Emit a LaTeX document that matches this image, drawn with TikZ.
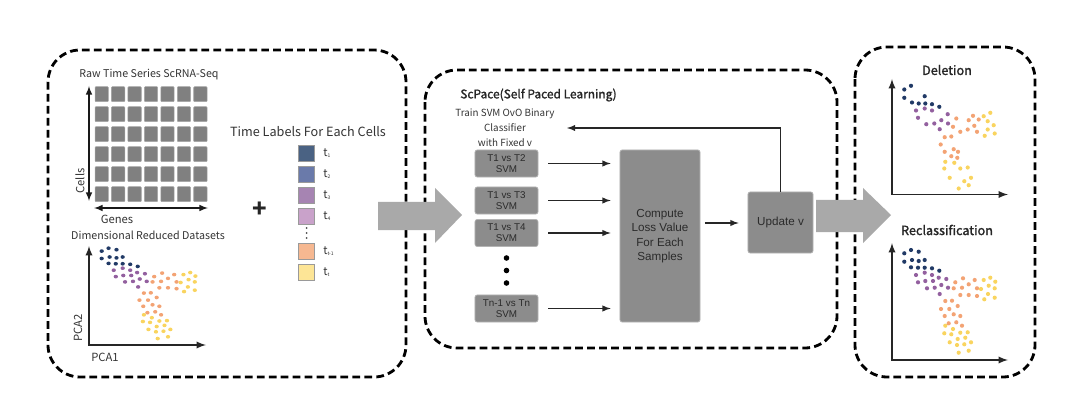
\documentclass[tikz,border=0pt]{standalone}
\usepackage{fontspec}
\setmainfont{Noto Sans CJK SC}
\newfontfamily\boxfont{Liberation Sans}
\newfontfamily\medfont{Noto Sans CJK SC}[FakeBold=1.6]
\usetikzlibrary{arrows}
\definecolor{cellgray}{HTML}{808080}
\definecolor{cellline}{HTML}{A6A6A6}
\definecolor{boxgray}{HTML}{8C8C8C}
\definecolor{boxline}{HTML}{B4B4B4}
\definecolor{boxtext}{HTML}{2B2B2B}
\definecolor{bigarrow}{HTML}{A9A9A9}
\definecolor{labeltext}{HTML}{333333}
\definecolor{legline}{HTML}{9A9A9A}
\definecolor{tone}{HTML}{4A6283}
\definecolor{ttwo}{HTML}{6A7AAA}
\definecolor{tthree}{HTML}{A684B2}
\definecolor{tfour}{HTML}{C9A2CA}
\definecolor{tlast}{HTML}{F6B891}
\definecolor{tend}{HTML}{FDE596}
\definecolor{navydot}{HTML}{213A66}
\definecolor{purpledot}{HTML}{93609F}
\definecolor{orangedot}{HTML}{F3A374}
\definecolor{yellowdot}{HTML}{F9D45F}
\newcommand{\tsub}[1]{t\raisebox{-0.25ex}{\fontsize{3.5}{4}\selectfont #1}}
% scatter points (dx/dy from the origin, in px)
\newcommand{\delnavy}{12.3/105,19/108.7,12.3/96.7,20/92,26.7/91,32.7/98.3,33.3/91,40/90.3,47.3/87.7}
\newcommand{\delpurple}{24/84,32.7/86,40/84,26/76.7,34.3/70.3,42.3/71,49.3/74.3,47.7/65.3,55.7/80.3,56/71}
\newcommand{\delorange}{64.3/76,61/67.7,68.3/62.7,52.7/57.3,59.3/58,48.7/50,52.7/42.7,59.3/38.3,61.7/45.3,66/42.7,65.3/36.7,76.7/74.3,81/78.7,86.7/75,82.3/68.7,75.7/65,85/62.7}
\newcommand{\delyellow}{91.7/78.3,98.3/81.7,95.7/73.3,101.7/69.3,95.7/65,102.7/61,92.7/58.7,53.3/32.7,62.3/31.7,52.3/26,68.3/26,75.7/27,57.7/16.7,79/16.7,72.3/13.3,66.7/6,76.7/9.3}
\newcommand{\recnavy}{12.3/106.7,19/110,26.7/108.3,12.3/98.3,20/100,26.7/99,32.7/100,19/92.7,26/92.3,32.7/92.3,40/91.7,47.3/89.3}
\newcommand{\recpurple}{24/85,32.7/87.3,40/85,26/77.7,33.3/79,41/79,46.7/82.3,54.3/81,35/71.7,42.7/72.3,49.3/75,56/72.3,47.7/66}
\newcommand{\recorange}{63.3/77.7,71/81.7,61.7/71.7,70/72.3,76.7/75.7,82.7/80,85/71.7,68.3/65,76.7/65,85/64,53.3/59,60/59.3,49/51,57.3/51,65.7/54,52.7/44,61.7/45.7,68.3/44,56.7/36.7,64.3/37.7,70/34.3}
\newcommand{\recyellow}{91.7/80,98.3/82.3,103.3/78.3,96.7/74.3,102.7/71.7,89/71,96/66,102.7/62.3,92.3/60.7,53.3/34.3,61/31,52.3/26.7,59.3/25.7,68.3/27.3,75.7/27.7,65.7/21,73.3/22.3,57.7/17.7,65/15,72.3/15.7,79/17.7,66.7/7.3,76.7/9.3}
\newcommand{\dotset}[4]{%
  \foreach \x/\y in #1 {\fill[navydot] (\x,-\y) circle[radius=2.1];}
  \foreach \x/\y in #2 {\fill[purpledot] (\x,-\y) circle[radius=2.1];}
  \foreach \x/\y in #3 {\fill[orangedot] (\x,-\y) circle[radius=2.1];}
  \foreach \x/\y in #4 {\fill[yellowdot] (\x,-\y) circle[radius=2.1];}}

\begin{document}
\begin{tikzpicture}[x=0.025cm,y=-0.025cm,
   panel/.style={draw=black,line width=2pt,dash pattern=on 5.5pt off 3pt,rounded corners=0.8cm},
   cell/.style={fill=cellgray,draw=cellline,line width=0.4pt,rounded corners=0.6pt,minimum width=0.333cm,minimum height=0.375cm,inner sep=0pt},
   legbox/.style={draw=legline,line width=0.5pt,minimum size=0.4cm,inner sep=0pt},
   svmbox/.style={fill=boxgray,draw=boxline,line width=0.5pt,rounded corners=1.5pt,inner sep=0pt,align=center,text=boxtext,font=\boxfont\fontsize{7}{7.6}\selectfont},
   txt/.style={text=labeltext,inner sep=0pt,font=\fontsize{8}{9.6}\selectfont},
   head/.style={text=black!85,inner sep=0pt,font=\medfont\fontsize{8.5}{10}\selectfont},
   flow/.style={-latex,line width=1pt,black!85},
   axis/.style={latex-latex,line width=1.3pt,black!85},
   dblarrow/.style={latex-latex,line width=1.1pt,black!90}]
   \useasboundingbox (0,0) rectangle (1088,407);
   % panels
   \draw[panel] (48,50) rectangle (406,377);
   \draw[panel] (425,70) rectangle (837,348);
   \draw[panel] (855,47) rectangle (1035,377);

   % left panel: expression matrix
   \node (rawtitle) at (149,75) [txt,font=\fontsize{7.6}{9}\selectfont] {Raw Time Series ScRNA-Seq};
   \foreach \i in {0,...,6}
      \foreach \j in {0,...,5}
         \node (c\i\j) at (101.7+16.45*\i,94.2+20*\j) [cell] {};
   \coordinate (celltop) at (89,86);
   \coordinate (cellbot) at (89,201);
   \coordinate (geneleft) at (94,208);
   \coordinate (generight) at (208,208);
   \draw[dblarrow] (celltop) to (cellbot);
   \draw[dblarrow] (geneleft) to (generight);
   \node (cells) at (80,181) [txt,rotate=90] {Cells};
   \node (genes) at (117,219) [txt] {Genes};
   \node (dimtitle) at (148,235) [txt,font=\fontsize{7.6}{9}\selectfont] {Dimensional Reduced Datasets};

   % left panel: reduced data
   \coordinate (lo) at (89,345);
   \coordinate (ly) at (89,246);
   \coordinate (lx) at (206,345);
   \begin{scope}[shift={(89,345)},xscale=1.03,yscale=0.88]
      \dotset{\recnavy}{\recpurple}{\recorange}{\recyellow}
   \end{scope}
   \draw[axis] (ly) -- (lo) -- (lx);
   \node (pcatwo) at (78,328) [txt,rotate=90] {PCA2};
   \node (pcaone) at (105,357) [txt] {PCA1};

   % time labels
   \node (plus) at (260,210) [text=black!85,font=\bfseries\fontsize{17}{17}\selectfont] {+};
   \node (timetitle) at (308,132) [txt,font=\fontsize{9}{11}\selectfont] {Time Labels For Each Cells};
   \node (l1) at (306.5,153) [legbox,fill=tone] {};
   \node (l2) at (306.5,174) [legbox,fill=ttwo] {};
   \node (l3) at (306.5,195) [legbox,fill=tthree] {};
   \node (l4) at (306.5,216) [legbox,fill=tfour] {};
   \node (l5) at (306.5,251) [legbox,fill=tlast] {};
   \node (l6) at (306.5,272) [legbox,fill=tend] {};
   \foreach \y in {228,233,238}
      \fill[black!70] (306.5,\y) circle[radius=1];
   \node (t1) at (323,153) [txt,anchor=west] {\tsub{1}};
   \node (t2) at (323,174) [txt,anchor=west] {\tsub{2}};
   \node (t3) at (323,195) [txt,anchor=west] {\tsub{3}};
   \node (t4) at (323,216) [txt,anchor=west] {\tsub{4}};
   \node (t5) at (323,251) [txt,anchor=west] {\tsub{t-1}};
   \node (t6) at (323,272) [txt,anchor=west] {\tsub{t}};

   % middle panel
   \node (sptitle) at (460,95) [head,anchor=west] {ScPace(Self Paced Learning)};
   \node (train) at (505,128) [txt,align=center,font=\fontsize{7}{10.7}\selectfont] {Train SVM OvO Binary\\Classifier\\with Fixed v};
   \node (svm1) at (506.5,163.5) [svmbox,minimum width=1.575cm,minimum height=0.675cm] {T1 vs T2\\SVM};
   \node (svm2) at (506.5,200.5) [svmbox,minimum width=1.575cm,minimum height=0.675cm] {T1 vs T3\\SVM};
   \node (svm3) at (506.5,233) [svmbox,minimum width=1.575cm,minimum height=0.675cm] {T1 vs T4\\SVM};
   \node (svmn) at (506.5,308.5) [svmbox,minimum width=1.575cm,minimum height=0.675cm] {Tn-1 vs Tn\\SVM};
   \foreach \y in {258,270.5,283}
      \fill[black] (506.5,\y) circle[radius=2.8];
   \node (loss) at (660,236) [svmbox,minimum width=2cm,minimum height=4.3cm,font=\boxfont\fontsize{8.3}{10.3}\selectfont] {Compute\\Loss Value\\For Each\\Samples};
   \node (update) at (780.5,222.5) [svmbox,minimum width=1.625cm,minimum height=1.525cm,font=\boxfont\fontsize{8.3}{10}\selectfont] {Update v};
   \draw[flow,shorten <=7.1pt,shorten >=6.4pt] (svm1.east) to (svm1.east -| loss.west);
   \draw[flow,shorten <=7.1pt,shorten >=6.4pt] (svm2.east) to (svm2.east -| loss.west);
   \draw[flow,shorten <=7.1pt,shorten >=6.4pt] (svm3.east) to (svm3.east -| loss.west);
   \draw[flow,shorten <=7.1pt,shorten >=6.4pt] (svmn.east) to (svmn.east -| loss.west);
   \coordinate (lossout) at (700,223);
   \draw[flow,shorten <=3.5pt,shorten >=6.4pt] (lossout) to (lossout -| update.west);
   \coordinate (back) at (567,128);
   \draw[flow] (update.north) |- (back);

   % right panel
   \node (deltitle) at (947,70) [head,font=\medfont\fontsize{9}{10}\selectfont] {Deletion};
   \coordinate (do) at (892,194.5);
   \coordinate (dy) at (892,79);
   \coordinate (dx) at (1008,194.5);
   \begin{scope}[shift={(892,194.5)}]
      \dotset{\delnavy}{\delpurple}{\delorange}{\delyellow}
   \end{scope}
   \draw[axis] (dy) -- (do) -- (dx);
   \node (rectitle) at (947,230) [head,font=\medfont\fontsize{9}{10}\selectfont] {Reclassification};
   \coordinate (ro) at (892,360);
   \coordinate (ry) at (892,243);
   \coordinate (rx) at (1008,360);
   \begin{scope}[shift={(892,360)}]
      \dotset{\recnavy}{\recpurple}{\recorange}{\recyellow}
   \end{scope}
   \draw[axis] (ry) -- (ro) -- (rx);

   % big arrows between panels
   \fill[bigarrow] (378,202) -- (435,202) -- (435,188) -- (462,215) -- (435,243) -- (435,230) -- (378,230) -- cycle;
   \fill[bigarrow] (816,200) -- (863,200) -- (863,188) -- (891,215) -- (863,243) -- (863,232) -- (816,232) -- cycle;
\end{tikzpicture}
\end{document}
